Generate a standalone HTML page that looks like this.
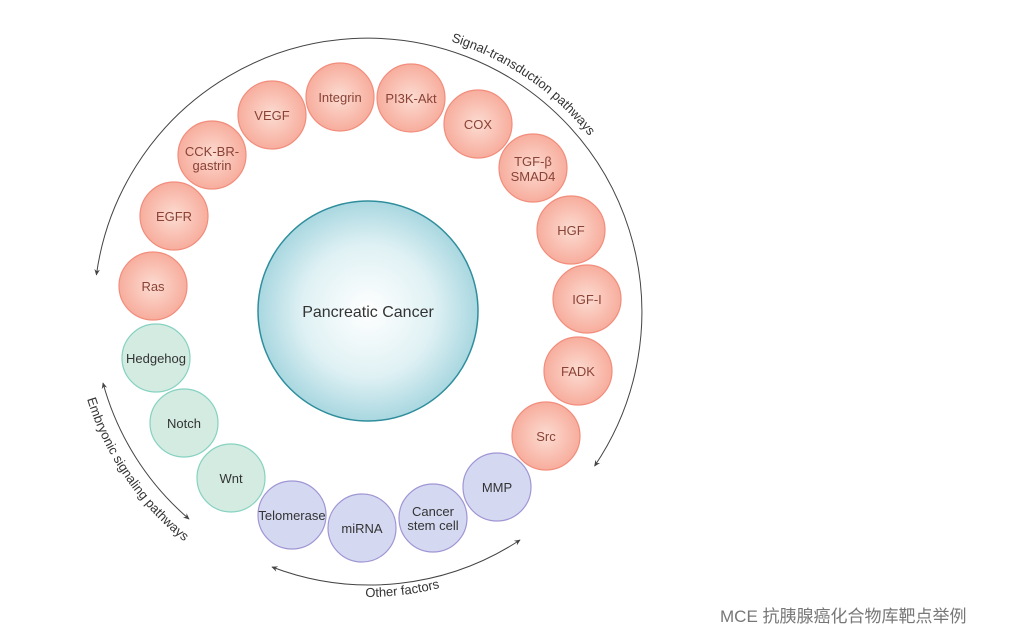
<!DOCTYPE html>
<html><head><meta charset="utf-8"><style>
html,body{margin:0;padding:0;background:#fff;width:1016px;height:637px;overflow:hidden}
text{font-family:"Liberation Sans","Noto Sans CJK SC",sans-serif}
</style></head><body>
<svg width="1016" height="637" viewBox="0 0 1016 637" xmlns="http://www.w3.org/2000/svg">
<defs>
<radialGradient id="gc" cx="50%" cy="50%" r="50%"><stop offset="0" stop-color="#ffffff"/><stop offset="0.6" stop-color="#dff1f4"/><stop offset="1" stop-color="#a9d7e0"/></radialGradient>
<radialGradient id="gr" cx="50%" cy="50%" r="50%"><stop offset="0" stop-color="#fcdcd2"/><stop offset="1" stop-color="#f7ad9d"/></radialGradient>
<marker id="ar" viewBox="0 0 10 10" refX="8" refY="5" markerWidth="7" markerHeight="7" orient="auto-start-reverse"><path d="M0,1 L9,5 L0,9 L3,5 z" fill="#444"/></marker>
<path id="tp1" d="M 368 311 m -282 0 a 282 282 0 0 1 564 0"/>
<path id="tp3" d="M 256.3 574.3 A 286 286 0 0 0 540.1 539.4"/>
<path id="tp4" d="M 87 399 A 295 295 0 0 0 220 566"/>
</defs>
<path d="M 96.4 274.9 A 274 274 0 1 1 594.6 466" fill="none" stroke="#444" stroke-width="1" marker-start="url(#ar)" marker-end="url(#ar)"/>
<path d="M 103 383 A 274 274 0 0 0 189 519" fill="none" stroke="#444" stroke-width="1" marker-start="url(#ar)" marker-end="url(#ar)"/>
<path d="M 272 567 A 274 274 0 0 0 520 540" fill="none" stroke="#444" stroke-width="1" marker-start="url(#ar)" marker-end="url(#ar)"/>
<text font-size="13" fill="#333"><textPath href="#tp1" startOffset="527">Signal-transduction  pathways</textPath></text>
<text font-size="13" fill="#333"><textPath href="#tp3" startOffset="50%" text-anchor="middle">Other  factors</textPath></text>
<text font-size="13" fill="#333"><textPath href="#tp4">Embryonic  signaling pathways</textPath></text>
<circle cx="368" cy="311" r="110" fill="url(#gc)" stroke="#2f8e9c" stroke-width="1.5"/>
<text x="368" y="317" font-size="16" fill="#333" text-anchor="middle">Pancreatic Cancer</text>
<g stroke="#f28d7c" stroke-width="1.2" fill="url(#gr)">
<circle cx="153" cy="286" r="34"/><circle cx="174" cy="216" r="34"/><circle cx="212" cy="155" r="34"/><circle cx="272" cy="115" r="34"/><circle cx="340" cy="97" r="34"/><circle cx="411" cy="98" r="34"/><circle cx="478" cy="124" r="34"/><circle cx="533" cy="168" r="34"/><circle cx="571" cy="230" r="34"/><circle cx="587" cy="299" r="34"/><circle cx="578" cy="371" r="34"/><circle cx="546" cy="436" r="34"/>
</g>
<g stroke="#86d2c0" stroke-width="1.2" fill="#d4ebe2">
<circle cx="156" cy="358" r="34"/><circle cx="184" cy="423" r="34"/><circle cx="231" cy="478" r="34"/>
</g>
<g stroke="#a096d4" stroke-width="1.2" fill="#d4d9f1">
<circle cx="292" cy="515" r="34"/><circle cx="362" cy="528" r="34"/><circle cx="433" cy="518" r="34"/><circle cx="497" cy="487" r="34"/>
</g>
<g font-size="13" fill="#8a4236" text-anchor="middle">
<text x="153" y="291">Ras</text><text x="174" y="221">EGFR</text>
<text x="212" y="156">CCK-BR-</text><text x="212" y="170">gastrin</text>
<text x="272" y="120">VEGF</text><text x="340" y="102">Integrin</text><text x="411" y="103">PI3K-Akt</text><text x="478" y="129">COX</text>
<text x="533" y="166">TGF-β</text><text x="533" y="181">SMAD4</text>
<text x="571" y="235">HGF</text><text x="587" y="304">IGF-I</text><text x="578" y="376">FADK</text><text x="546" y="441">Src</text>
</g>
<g font-size="13" fill="#333" text-anchor="middle">
<text x="156" y="363">Hedgehog</text><text x="184" y="428">Notch</text><text x="231" y="483">Wnt</text>
<text x="292" y="520">Telomerase</text><text x="362" y="533">miRNA</text>
<text x="433" y="516">Cancer</text><text x="433" y="530">stem cell</text><text x="497" y="492">MMP</text>
</g>
<text x="720" y="622" font-size="17" fill="#777">MCE 抗胰腺癌化合物库靶点举例</text>
</svg>
</body></html>
